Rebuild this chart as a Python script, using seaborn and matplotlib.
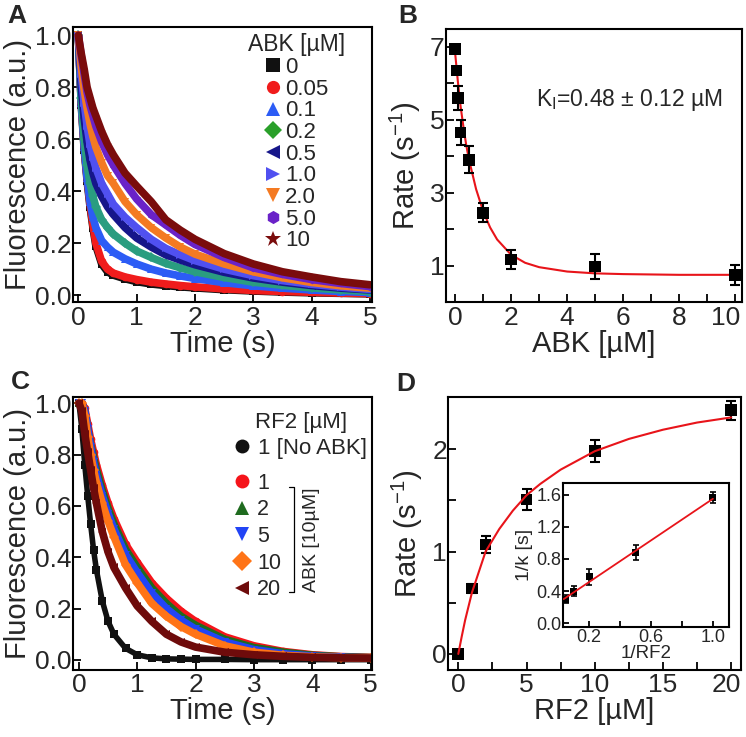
import matplotlib
matplotlib.use("Agg")
import matplotlib.pyplot as plt
import matplotlib.transforms as mtransforms
from matplotlib.lines import Line2D
from matplotlib.ticker import MultipleLocator, FormatStrFormatter
import seaborn as sns

# ---- panel A: fluorescence decay vs ABK concentration ----
TIME = [0, 0.05, 0.1, 0.15, 0.2, 0.25, 0.3, 0.4, 0.5, 0.6, 0.8, 1.0,
        1.25, 1.5, 1.75, 2.0, 2.5, 3.0, 3.5, 4.0, 4.5, 5.0]

A_0 = [1.0, 0.73, 0.56, 0.44, 0.34, 0.26, 0.19, 0.12, 0.09, 0.077, 0.063, 0.052,
       0.043, 0.037, 0.032, 0.028, 0.021, 0.016, 0.012, 0.009, 0.007, 0.005]
A_005 = [1.0, 0.74, 0.57, 0.45, 0.35, 0.27, 0.2, 0.13, 0.1, 0.085, 0.07, 0.06,
         0.05, 0.043, 0.037, 0.032, 0.024, 0.018, 0.014, 0.011, 0.008, 0.006]
A_01 = [1.0, 0.74, 0.57, 0.45, 0.36, 0.3, 0.26, 0.21, 0.185, 0.165, 0.14, 0.12,
        0.1, 0.085, 0.074, 0.064, 0.048, 0.036, 0.027, 0.02, 0.014, 0.01]
A_02 = [1.0, 0.76, 0.6, 0.5, 0.43, 0.38, 0.34, 0.29, 0.26, 0.235, 0.2, 0.17,
        0.145, 0.122, 0.105, 0.09, 0.068, 0.05, 0.038, 0.028, 0.02, 0.014]
A_05 = [1.0, 0.8, 0.68, 0.59, 0.52, 0.47, 0.43, 0.38, 0.34, 0.31, 0.26, 0.22,
        0.185, 0.155, 0.135, 0.117, 0.088, 0.066, 0.05, 0.037, 0.027, 0.02]
A_1 = [1.0, 0.85, 0.74, 0.65, 0.58, 0.53, 0.49, 0.43, 0.39, 0.35, 0.3, 0.26,
       0.215, 0.18, 0.155, 0.133, 0.1, 0.075, 0.056, 0.042, 0.031, 0.022]
A_2 = [1.0, 0.88, 0.79, 0.72, 0.66, 0.61, 0.57, 0.51, 0.46, 0.43, 0.36, 0.31,
       0.26, 0.22, 0.185, 0.158, 0.12, 0.09, 0.067, 0.049, 0.036, 0.027]
A_5 = [1.0, 0.92, 0.85, 0.78, 0.73, 0.69, 0.65, 0.59, 0.54, 0.5, 0.43, 0.37,
       0.31, 0.27, 0.23, 0.195, 0.145, 0.105, 0.08, 0.06, 0.045, 0.033]
A_10 = [1.0, 0.93, 0.87, 0.8, 0.76, 0.72, 0.69, 0.63, 0.58, 0.54, 0.47, 0.42,
        0.36, 0.29, 0.25, 0.215, 0.16, 0.12, 0.09, 0.07, 0.052, 0.04]

A_LABELS = ['0', '0.05', '0.1', '0.2', '0.5', '1.0', '2.0', '5.0', '10']
A_SERIES = [A_0, A_005, A_01, A_02, A_05, A_1, A_2, A_5, A_10]
A_COLORS = ['#111111', '#f01c1c', '#2c5cf5', '#2a9d80', '#16168a', '#5050f0',
            '#f47a22', '#6a22c8', '#7a0c0c']
A_LEGEND_COLORS = ['#111111', '#f01c1c', '#2c5cf5', '#2aa02a', '#16168a', '#5050f0',
                   '#f47a22', '#6a22c8', '#7a0c0c']
A_MARKERS = ['s', 'o', '^', 'D', '<', '>', 'v', 'h', '*']

# ---- panel B: rate vs ABK ----
B_ABK = [0, 0.05, 0.1, 0.2, 0.5, 1.0, 2.0, 5.0, 10.0]
B_RATE = [6.95, 6.35, 5.6, 4.65, 3.9, 2.45, 1.17, 0.98, 0.75]
B_ERR = [0.08, 0.08, 0.32, 0.34, 0.37, 0.26, 0.25, 0.35, 0.27]
B_FIT_X = [0, 0.1, 0.2, 0.3, 0.4, 0.5, 0.75, 1.0, 1.25, 1.5, 2.0, 2.5, 3.0,
           4.0, 5.0, 6.0, 8.0, 10.0]
B_FIT_Y = [6.85, 6.05, 5.35, 4.8, 4.3, 3.9, 3.1, 2.5, 2.05, 1.72, 1.3, 1.08,
           0.96, 0.84, 0.79, 0.77, 0.75, 0.75]

# ---- panel C: fluorescence decay vs RF2 (with 10 uM ABK) ----
C_NO_ABK = [1.0, 0.9, 0.76, 0.64, 0.53, 0.43, 0.35, 0.23, 0.15, 0.1, 0.045, 0.02,
            0.008, 0.004, 0.003, 0.002, 0.002, 0.001, 0.001, 0.001, 0.001, 0.001]
C_1 = [1.0, 1.0, 0.98, 0.92, 0.86, 0.81, 0.76, 0.68, 0.61, 0.55, 0.45, 0.38,
       0.3, 0.24, 0.19, 0.15, 0.09, 0.055, 0.033, 0.02, 0.013, 0.01]
C_2 = [1.0, 1.0, 0.97, 0.9, 0.84, 0.79, 0.74, 0.66, 0.59, 0.53, 0.43, 0.36,
       0.28, 0.22, 0.17, 0.135, 0.08, 0.048, 0.03, 0.018, 0.012, 0.009]
C_5 = [1.0, 1.0, 0.97, 0.9, 0.83, 0.77, 0.72, 0.64, 0.57, 0.51, 0.41, 0.34,
       0.26, 0.2, 0.155, 0.12, 0.07, 0.04, 0.024, 0.015, 0.01, 0.008]
C_10 = [1.0, 1.0, 0.95, 0.87, 0.8, 0.74, 0.69, 0.61, 0.54, 0.48, 0.37, 0.3,
        0.22, 0.17, 0.13, 0.1, 0.055, 0.03, 0.018, 0.012, 0.009, 0.007]
C_20 = [1.0, 0.97, 0.88, 0.81, 0.74, 0.67, 0.61, 0.5, 0.42, 0.36, 0.28, 0.21,
        0.15, 0.1, 0.07, 0.05, 0.03, 0.02, 0.014, 0.01, 0.008, 0.007]

C_LABELS = ['1', '2', '5', '10', '20']
C_SERIES = [C_1, C_2, C_5, C_10, C_20]
C_COLORS = ['#f5141a', '#1f6b1f', '#2244f5', '#ff7417', '#6e0b0b']
C_MARKERS = ['o', '^', 'v', 'D', '<']

# ---- panel D: rate vs RF2 + double reciprocal inset ----
D_RF2 = [0, 1, 2, 5, 10, 20]
D_RATE = [0.0, 0.64, 1.07, 1.51, 1.98, 2.38]
D_ERR = [0.03, 0.04, 0.08, 0.1, 0.105, 0.095]
D_FIT_X = [0, 0.25, 0.5, 1, 1.5, 2, 3, 4, 5, 6, 7.5, 10, 12.5, 15, 17.5, 20]
D_FIT_Y = [0, 0.17, 0.33, 0.6, 0.8, 1.0, 1.22, 1.4, 1.55, 1.66, 1.8, 1.98,
           2.1, 2.19, 2.26, 2.31]

INV_RF2 = [0.05, 0.1, 0.2, 0.5, 1.0]
INV_K = [0.3, 0.4, 0.58, 0.88, 1.57]
INV_ERR = [0.05, 0.06, 0.1, 0.09, 0.07]
INV_FIT_X = [0.035, 1.0]
INV_FIT_Y = [0.3, 1.55]

FS_TICK = 19
FS_LABEL = 21
W, H = 746, 737


def style_axes(ax, fs=FS_TICK, length=6, pad=2.5):
    ax.tick_params(which='both', direction='in', length=length, width=1.3,
                   top=False, right=False, labelsize=fs, pad=pad, color='black')
    for sp in ax.spines.values():
        sp.set_visible(True)
        sp.set_linewidth(1.5)
        sp.set_color('black')


def shift_xlabel(fig, ax, text, dx_px):
    fig.canvas.draw()
    off = mtransforms.ScaledTranslation(dx_px / 100.0, 0, fig.dpi_scale_trans)
    for lab in ax.get_xticklabels():
        if lab.get_text() == text:
            lab.set_transform(lab.get_transform() + off)


def draw_decay(ax, series, colors, markers, lw=5.5, ms=5.5):
    for vals, col, mk in zip(series, colors, markers):
        sns.lineplot(x=TIME, y=vals, ax=ax, color=col, lw=lw, sort=False,
                     marker=mk, ms=ms, markeredgewidth=0)


def panel_letter(fig, x_px, y_px, s):
    fig.text(x_px / W, 1 - y_px / H, s, fontsize=19, fontweight='bold',
             ha='center', va='center')


def plot_figure():
    sns.set_theme(style="ticks")
    plt.rcParams['font.family'] = ['Liberation Sans', 'DejaVu Sans']
    plt.rcParams['mathtext.fontset'] = 'custom'
    plt.rcParams['mathtext.rm'] = 'Liberation Sans'
    plt.rcParams['mathtext.it'] = 'Liberation Sans:italic'

    fig = plt.figure(figsize=(7.46, 7.37), dpi=100)

    # ---------------- A ----------------
    ax = fig.add_axes([0.098, 0.590, 0.401, 0.373])
    draw_decay(ax, A_SERIES, A_COLORS, A_MARKERS)
    ax.set_xlim(-0.09, 5.04)
    ax.set_ylim(-0.027, 1.031)
    ax.xaxis.set_major_locator(MultipleLocator(1))
    ax.yaxis.set_major_locator(MultipleLocator(0.2))
    ax.yaxis.set_major_formatter(FormatStrFormatter('%.1f'))
    style_axes(ax)
    ax.tick_params(axis='y', pad=1)
    ax.set_xlabel('Time (s)', fontsize=FS_LABEL, labelpad=0)
    ax.set_ylabel('Fluorescence (a.u.)', fontsize=FS_LABEL, labelpad=2)
    handles = [Line2D([], [], ls='none', marker=m, color=c, ms=9.5, markeredgewidth=0)
               for m, c in zip(A_MARKERS, A_LEGEND_COLORS)]
    handles[-1].set_markersize(12)
    ax.legend(handles, A_LABELS, title='ABK [µM]', loc='upper left',
              bbox_to_anchor=(0.585, 0.978), frameon=False, fontsize=16,
              title_fontsize=16.5, handlelength=0.7, handletextpad=0.2,
              labelspacing=0.03, borderpad=0, borderaxespad=0)
    panel_letter(fig, 17, 16, 'A')

    # ---------------- B ----------------
    ax_b = fig.add_axes([0.598, 0.590, 0.397, 0.371])
    ax = ax_b
    sns.lineplot(x=B_FIT_X, y=B_FIT_Y, ax=ax, color='#e8141a', lw=1.5, sort=False)
    ax.errorbar(B_ABK, B_RATE, yerr=B_ERR, fmt='none', ecolor='black',
                elinewidth=1.5, capsize=3.5, capthick=1.5)
    sns.scatterplot(x=B_ABK, y=B_RATE, ax=ax, marker='s', color='black', s=70,
                    edgecolor='none', zorder=5)
    ax.set_xlim(-0.32, 10.25)
    ax.set_ylim(0, 7.5)
    ax.set_xticks([0, 2, 4, 6, 8, 10])
    ax.set_xticks([1, 3, 5, 7, 9], minor=True)
    ax.set_yticks([1, 3, 5, 7])
    ax.set_yticks([2, 4, 6], minor=True)
    style_axes(ax)
    ax.tick_params(axis='y', pad=1)
    ax.set_xlabel('ABK [µM]', fontsize=FS_LABEL, labelpad=0)
    ax.set_ylabel('Rate (s$^{-1}$)', fontsize=FS_LABEL, labelpad=5)
    ax.text(0.936, 0.74, 'K$_{\\rm I}$=0.48 ± 0.12 µM', transform=ax.transAxes,
            fontsize=16.5, ha='right', va='center')
    panel_letter(fig, 408, 16, 'B')

    # ---------------- C ----------------
    ax = fig.add_axes([0.098, 0.091, 0.401, 0.370])
    sns.lineplot(x=TIME, y=C_NO_ABK, ax=ax, color='#111111', lw=4, sort=False,
                 marker='s', ms=6, markeredgewidth=0)
    draw_decay(ax, C_SERIES, C_COLORS, C_MARKERS)
    ax.set_xlim(-0.1, 5.03)
    ax.set_ylim(-0.039, 1.023)
    ax.xaxis.set_major_locator(MultipleLocator(1))
    ax.yaxis.set_major_locator(MultipleLocator(0.2))
    ax.yaxis.set_major_formatter(FormatStrFormatter('%.1f'))
    style_axes(ax)
    ax.tick_params(axis='y', pad=1)
    ax.set_xlabel('Time (s)', fontsize=FS_LABEL, labelpad=0)
    ax.set_ylabel('Fluorescence (a.u.)', fontsize=FS_LABEL, labelpad=2)
    h1 = [Line2D([], [], ls='none', marker='o', color='#111111', ms=10, markeredgewidth=0)]
    leg1 = ax.legend(h1, ['1 [No ABK]'], title='RF2 [µM]', loc='upper left',
                     bbox_to_anchor=(0.54, 0.945), frameon=False, fontsize=16,
                     title_fontsize=16, handlelength=0.7, handletextpad=0.35,
                     labelspacing=0.2, borderpad=0, borderaxespad=0)
    ax.add_artist(leg1)
    h2 = [Line2D([], [], ls='none', marker=m, color=c, ms=10, markeredgewidth=0)
          for m, c in zip(C_MARKERS, C_COLORS)]
    ax.legend(h2, C_LABELS, loc='upper left', bbox_to_anchor=(0.54, 0.723),
              frameon=False, fontsize=15.5, handlelength=0.7, handletextpad=0.35,
              labelspacing=0.26, borderpad=0, borderaxespad=0)
    ax.plot([0.722, 0.74, 0.74, 0.722], [0.67, 0.67, 0.286, 0.286],
            transform=ax.transAxes, color='black', lw=0.9)
    ax.text(0.797, 0.478, 'ABK [10µM]', transform=ax.transAxes, rotation=90,
            fontsize=14, ha='center', va='center')
    panel_letter(fig, 20, 382, 'C')

    # ---------------- D ----------------
    ax_d = fig.add_axes([0.601, 0.091, 0.392, 0.370])
    ax = ax_d
    ax.errorbar(D_RF2, D_RATE, yerr=D_ERR, fmt='none', ecolor='black',
                elinewidth=1.5, capsize=3.5, capthick=1.5)
    sns.scatterplot(x=D_RF2, y=D_RATE, ax=ax, marker='s', color='black', s=70,
                    edgecolor='none', zorder=4)
    sns.lineplot(x=D_FIT_X, y=D_FIT_Y, ax=ax, color='#e8141a', lw=1.5, sort=False,
                 zorder=5)
    ax.set_xlim(-0.73, 20.7)
    ax.set_ylim(-0.156, 2.507)
    ax.set_xticks([0, 5, 10, 15, 20])
    ax.set_xticks([2.5, 7.5, 12.5, 17.5], minor=True)
    ax.set_yticks([0, 1, 2])
    ax.set_yticks([0.5, 1.5], minor=True)
    style_axes(ax)
    ax.tick_params(axis='y', pad=1)
    ax.set_xlabel('RF2 [µM]', fontsize=FS_LABEL, labelpad=0)
    ax.set_ylabel('Rate (s$^{-1}$)', fontsize=FS_LABEL, labelpad=5)
    panel_letter(fig, 406, 384, 'D')

    # inset
    ins = fig.add_axes([0.755, 0.149, 0.222, 0.196])
    sns.lineplot(x=INV_FIT_X, y=INV_FIT_Y, ax=ins, color='#e8141a', lw=1.3,
                 sort=False, zorder=5)
    ins.errorbar(INV_RF2, INV_K, yerr=INV_ERR, fmt='none', ecolor='black',
                 elinewidth=1.2, capsize=2.5, capthick=1.2)
    sns.scatterplot(x=INV_RF2, y=INV_K, ax=ins, marker='s', color='black', s=25,
                    edgecolor='none', zorder=4)
    ins.set_xlim(0.032, 1.103)
    ins.set_ylim(-0.05, 1.75)
    ins.set_xticks([0.2, 0.6, 1.0])
    ins.set_xticks([0.4, 0.8], minor=True)
    ins.set_yticks([0.0, 0.4, 0.8, 1.2, 1.6])
    ins.xaxis.set_major_formatter(FormatStrFormatter('%.1f'))
    ins.yaxis.set_major_formatter(FormatStrFormatter('%.1f'))
    style_axes(ins, fs=13, length=4, pad=1.5)
    ins.set_xlabel('1/RF2', fontsize=13.5, labelpad=-1)
    ins.set_ylabel('1/k [s]', fontsize=14, labelpad=2)

    shift_xlabel(fig, ax_b, '10', -10)
    shift_xlabel(fig, ax_d, '20', -5)

    fig.savefig('out.png', dpi=100)
    plt.close(fig)


if __name__ == "__main__":
    plot_figure()
